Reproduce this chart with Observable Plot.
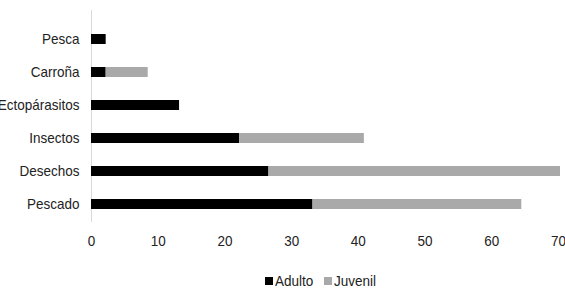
<!DOCTYPE html>
<html>
<head>
<meta charset="utf-8">
<script src="https://cdn.jsdelivr.net/npm/d3@7"></script>
<script src="https://cdn.jsdelivr.net/npm/@observablehq/plot@0.6"></script>
<style>
  html, body { margin: 0; padding: 0; background: #fff; overflow: hidden; }
  #chart { width: 565px; font-family: "Liberation Sans", Arial, sans-serif; }
  .legend { position: relative; height: 31px; font-size: 15px; color: #222; }
  .legend span.item { position: absolute; top: 10px; display: flex; align-items: center; }
  .legend .sw { display: inline-block; width: 8px; height: 8px; margin-right: 2px; }
  .legend .tx { display: inline-block; transform: scaleX(0.9); transform-origin: left center; }
</style>
</head>
<body>
<div id="chart"></div>
<script>
const categories = ["Pesca", "Carroña", "Ectopárasitos", "Insectos", "Desechos", "Pescado"];
const series = ["Adulto", "Juvenil"];
const adulto = [2.2, 2.2, 13.2, 22.2, 26.6, 33.2];
const juvenil = [0, 6.3, 0, 18.7, 43.7, 31.3];
const xTicks = [0, 10, 20, 30, 40, 50, 60, 70];
const colors = ["#000000", "#a9a9a9"];

const data = [];
categories.forEach((c, i) => {
  data.push({category: c, series: "Adulto", value: adulto[i]});
  data.push({category: c, series: "Juvenil", value: juvenil[i]});
});

const plot = Plot.plot({
  width: 565,
  height: 262,
  marginLeft: 91,
  marginRight: 7,
  marginTop: 10,
  marginBottom: 40,
  style: {fontSize: "15px", fontFamily: "'Liberation Sans', Arial, sans-serif", color: "#222", overflow: "visible"},
  x: {domain: [0, 70], ticks: xTicks, tickSize: 0, tickPadding: 13, label: null, tickFormat: d => String(d)},
  y: {domain: categories, paddingInner: 0.7, paddingOuter: 0.35, insetTop: 11, insetBottom: 1, tickSize: 0, tickPadding: 12, label: null},
  color: {domain: series, range: colors},
  marks: [
    Plot.ruleX([0], {stroke: "#d9d9d9", strokeWidth: 1}),
    Plot.barX(data, Plot.stackX({y: "category", x: "value", fill: "series", order: series}))
  ]
});
const chart = document.getElementById("chart");
chart.appendChild(plot);

// condensed look: horizontally squeeze axis labels around their anchor
plot.querySelectorAll("text").forEach(t => {
  let el = t, anchor = null;
  while (el && el !== plot && !anchor) {
    anchor = el.getAttribute && el.getAttribute("text-anchor");
    el = el.parentNode;
  }
  const b = t.getBBox();
  const ax = anchor === "end" ? b.x + b.width : anchor === "start" ? b.x : b.x + b.width / 2;
  const prev = t.getAttribute("transform") || "";
  t.setAttribute("transform", `${prev} translate(${ax},0) scale(0.9,1) translate(${-ax},0)`);
});

const legend = document.createElement("div");
legend.className = "legend";
const lefts = [265, 324];
series.forEach((s, i) => {
  const item = document.createElement("span");
  item.className = "item";
  item.style.left = lefts[i] + "px";
  const sw = document.createElement("span");
  sw.className = "sw";
  sw.style.background = colors[i];
  item.appendChild(sw);
  const tx = document.createElement("span");
  tx.className = "tx";
  tx.textContent = s;
  item.appendChild(tx);
  legend.appendChild(item);
});
chart.appendChild(legend);
</script>
</body>
</html>
